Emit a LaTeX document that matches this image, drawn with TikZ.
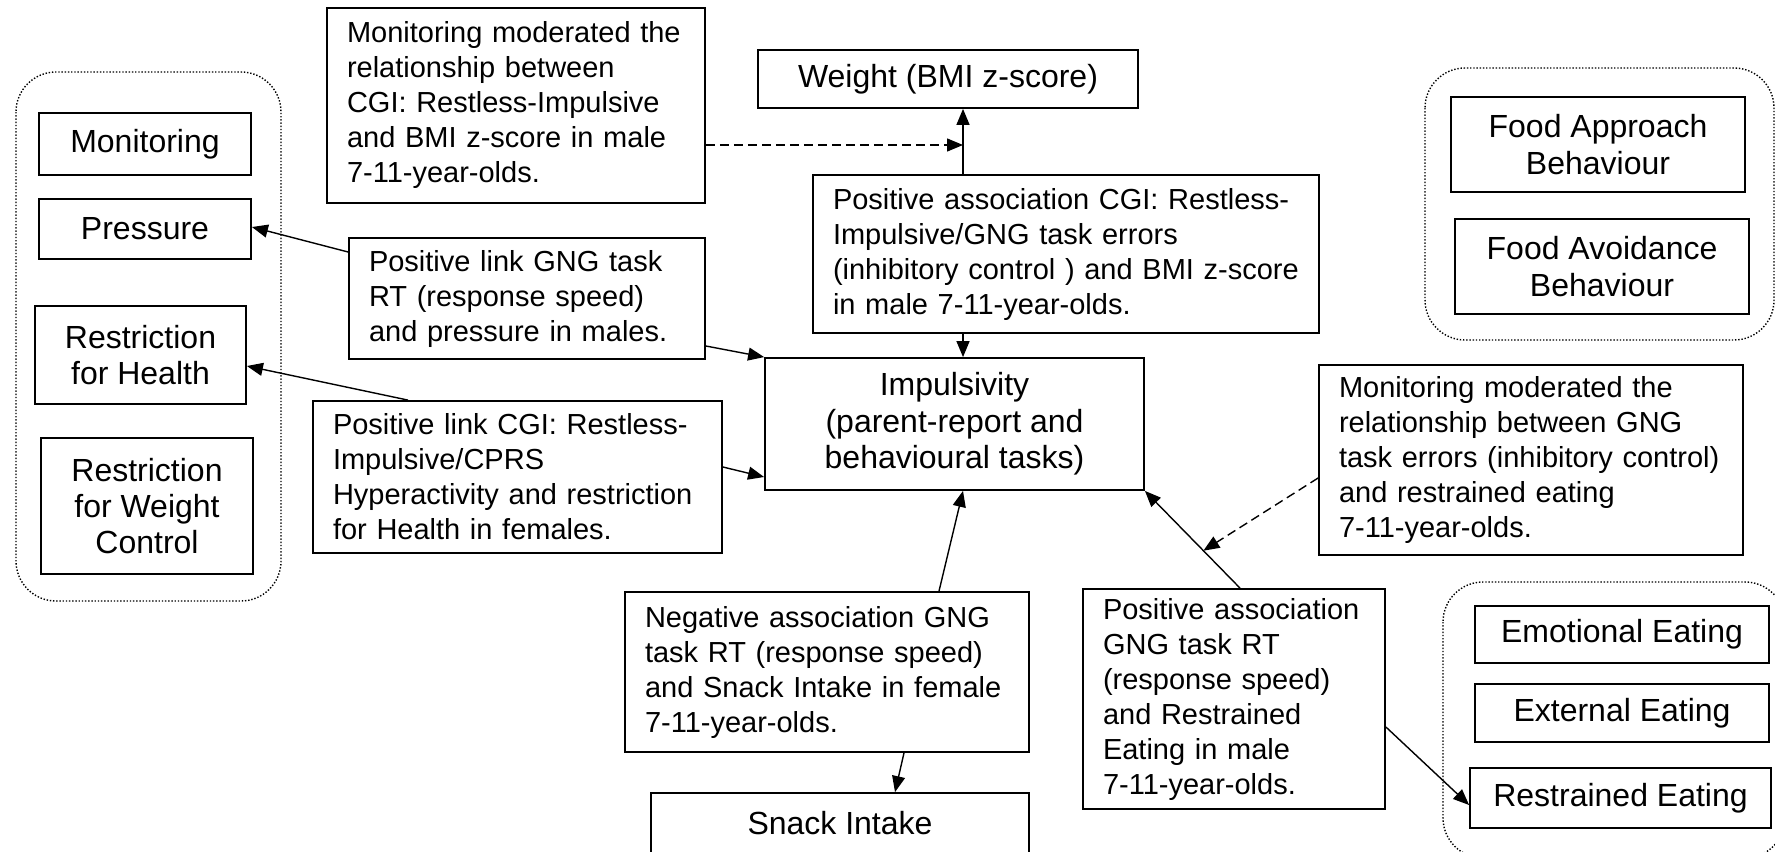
\documentclass[tikz,border=0pt]{standalone}
\usepackage{fontspec}
\setmainfont{Liberation Sans}
\usetikzlibrary{arrows.meta}
\tikzset{box/.style={draw, line width=0.9pt, align=center, inner sep=0pt,
         font=\fontsize{16pt}{18.2pt}\selectfont},
         note/.style={draw, line width=0.9pt, align=left, inner xsep=10pt,
         inner ysep=0pt, text width=#1},
         group/.style={line width=0.7pt, dash pattern=on 0.7pt off 0.9pt,
         rounded corners=20pt},
         arr/.style={-{Triangle[length=8pt,width=6.5pt]}, line width=0.7pt},
         dasharr/.style={arr, dash pattern=on 4.5pt off 2.5pt}}

\begin{document}
\begin{tikzpicture}[x=0.5pt, y=-0.5pt, font=\fontsize{14.5pt}{17.5pt}\selectfont]
  \useasboundingbox (0,0) rectangle (1775,851);

  \draw[group] (16,72) rectangle (281,601);
  \draw[group] (1425,68) rectangle (1774,340);
  \draw[group] (1443,582) rectangle (1785,858);

  \node[box, minimum width=106pt, minimum height=31pt] (mon) at (145,144) {Monitoring};
  \node[box, minimum width=106pt, minimum height=30pt] (press) at (145,229) {Pressure};
  \node[box, minimum width=105.5pt, minimum height=49pt] (rhealth) at (140.5,355) {Restriction\\for Health};
  \node[box, minimum width=106pt, minimum height=68pt] (rweight) at (147,506) {Restriction\\for Weight\\Control};

  \node[box, minimum width=147pt, minimum height=47.5pt] (fapp) at (1598,144.5) {Food Approach\\Behaviour};
  \node[box, minimum width=147pt, minimum height=47.5pt] (favoid) at (1602,266.5) {Food Avoidance\\Behaviour};

  \node[box, minimum width=147pt, minimum height=28.5pt] (emo) at (1622,634.5) {Emotional Eating};
  \node[box, minimum width=147pt, minimum height=29pt] (ext) at (1622,713) {External Eating};
  \node[box, minimum width=150.5pt, minimum height=30pt] (restr) at (1620.5,798) {Restrained Eating};

  \node[box, minimum width=190pt, minimum height=29pt] (weight) at (948,79) {Weight (BMI z-score)};
  \node[box, minimum width=189.5pt, minimum height=66pt] (imp) at (954.5,424) {Impulsivity\\(parent-report and\\behavioural tasks)};
  \node[box, minimum width=189pt, minimum height=30pt] (snack) at (840,823) {Snack Intake};

  \node[note=169pt, minimum height=97.5pt] (bmi) at (516,105.5) {Monitoring moderated the\\relationship between\\CGI: Restless-Impulsive\\and BMI z-score in male\\7-11-year-olds.};
  \node[note=233pt, minimum height=79pt] (cgi) at (1066,254) {Positive association CGI: Restless-\\Impulsive/GNG task errors\\(inhibitory control ) and BMI z-score\\in male 7-11-year-olds.};
  \node[note=158pt, minimum height=60.5pt] (gngp) at (527,298.5) {Positive link GNG task\\RT (response speed)\\and pressure in males.};
  \node[note=184.5pt, minimum height=76pt] (cprs) at (517.5,477) {Positive link CGI: Restless-\\Impulsive/CPRS\\Hyperactivity and restriction\\for Health in females.};
  \node[note=192pt, minimum height=95pt] (renote) at (1531,460) {Monitoring moderated the\\relationship between GNG\\task errors (inhibitory control)\\and restrained eating\\7-11-year-olds.};
  \node[note=182pt, minimum height=80pt] (neg) at (827,672) {Negative association GNG\\task RT (response speed)\\and Snack Intake in female\\7-11-year-olds.};
  \node[note=131pt, minimum height=110pt] (posre) at (1234,699) {Positive association\\GNG task RT\\(response speed)\\and Restrained\\Eating in male\\7-11-year-olds.};

  \draw[arr] ([yshift=23.25pt]gngp.west) -- ([yshift=1pt]press.east);
  \draw[arr] ([xshift=-54.75pt]cprs.north) -- ([yshift=-5.5pt]rhealth.east);
  \draw[arr] ([yshift=-23.75pt]gngp.east) -- (imp.north west);
  \draw[arr] ([yshift=5pt]cprs.east) -- ([yshift=-26.5pt]imp.west);

  \coordinate (vx) at ([xshift=-51.5pt]cgi.north);
  \coordinate (vb) at ([xshift=-51.5pt]cgi.south);
  \coordinate (bo) at ([yshift=-19.75pt]bmi.east);
  \draw[arr] (vx) -- (vx |- weight.south);
  \draw[arr] (vb) -- (vb |- imp.north);
  \draw[dasharr] (bo) -- (bo -| vx);

  \draw[arr] ([xshift=56pt]neg.north) -- ([xshift=4.25pt]imp.south);
  \draw[arr] ([xshift=38.5pt]neg.south) -- ([xshift=27.5pt]snack.north);
  \draw[arr] ([xshift=3pt]posre.north) -- coordinate[pos=0.385] (rm) (imp.south east);
  \draw[dasharr] ([yshift=-9pt]renote.west) -- (rm);
  \draw[arr] ([yshift=-14pt]posre.east) -- ([yshift=-3.5pt]restr.west);
\end{tikzpicture}
\end{document}
